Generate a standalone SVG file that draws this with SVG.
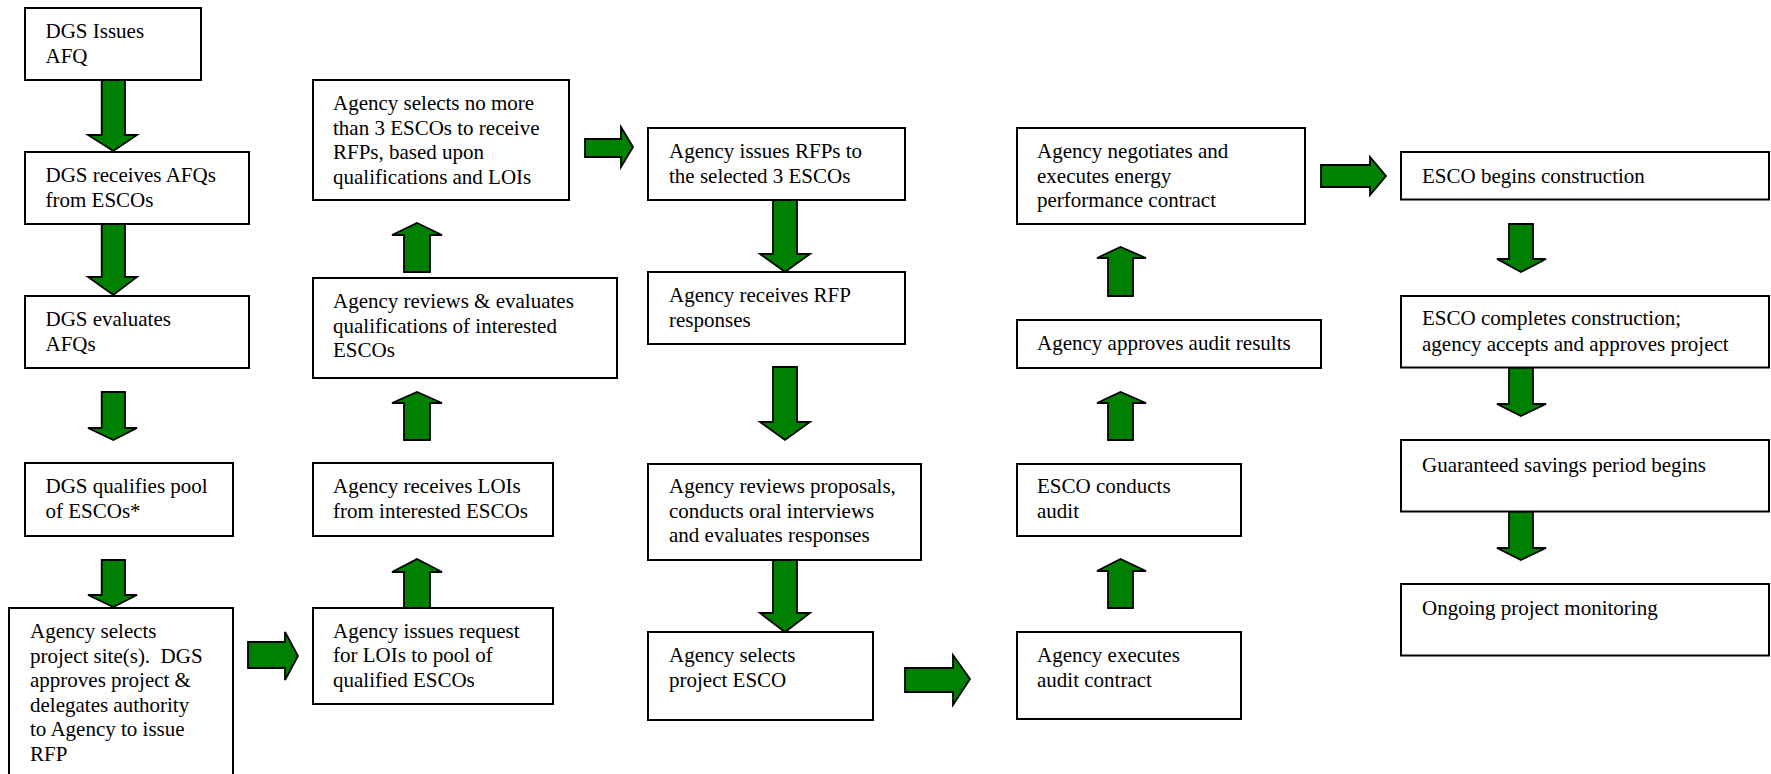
<svg xmlns="http://www.w3.org/2000/svg" width="1771" height="774" viewBox="0 0 1771 774">
<style>
.box{fill:#fff;stroke:#000;stroke-width:2}
.arr{fill:#008000;stroke:#000;stroke-width:1.8;stroke-linejoin:miter}
.t{font-size:21px;fill:#000}
</style>
<rect width="1771" height="774" fill="#fff"/>
<g id="connectors">
<polygon class="arr" points="101.7,80 125,80 125,135 137,135 113.3,151 88,135 101.7,135"/>
<polygon class="arr" points="101.7,224 125,224 125,277 137,277 113.3,295 88,277 101.7,277"/>
<polygon class="arr" points="101.7,392 125,392 125,428 137,428 113.3,440 88,428 101.7,428"/>
<polygon class="arr" points="101.7,560 125,560 125,595 137,595 113.3,607 88,595 101.7,595"/>
<polygon class="arr" points="248,642 285,642 285,632 298,656 285,680 285,668 248,668"/>
<polygon class="arr" points="404,608 430,608 430,572 442,572 417,559 392,572 404,572"/>
<polygon class="arr" points="404,440 430,440 430,403 442,403 417,392 392,403 404,403"/>
<polygon class="arr" points="404,272 430,272 430,235 442,235 417,223 392,235 404,235"/>
<polygon class="arr" points="585,139 621,139 621,127 633,147 621,167 621,157 585,157"/>
<polygon class="arr" points="773,200 797,200 797,254 810,254 785,272 760,254 773,254"/>
<polygon class="arr" points="773,367 797,367 797,422 810,422 785,440 760,422 773,422"/>
<polygon class="arr" points="773,560 797,560 797,613 810,613 785,632 760,613 773,613"/>
<polygon class="arr" points="905,668 953,668 953,655 970,679 953,705 953,692 905,692"/>
<polygon class="arr" points="1108,608 1133,608 1133,571 1146,571 1120.5,559 1097,571 1108,571"/>
<polygon class="arr" points="1108,440 1133,440 1133,403 1146,403 1120.5,392 1097,403 1108,403"/>
<polygon class="arr" points="1108,296 1133,296 1133,258 1146,258 1120.5,247 1097,258 1108,258"/>
<polygon class="arr" points="1321,165 1370,165 1370,157 1386,176 1370,195 1370,187 1321,187"/>
<polygon class="arr" points="1509,224 1533,224 1533,259 1546,259 1521,272 1497,259 1509,259"/>
<polygon class="arr" points="1509,367.5 1533,367.5 1533,404 1546,404 1521,416 1497,404 1509,404"/>
<polygon class="arr" points="1509,511.5 1533,511.5 1533,548 1546,548 1521,560 1497,548 1509,548"/>
</g>
<g font-family="'Liberation Serif', Tinos, 'Times New Roman', Times, 'DejaVu Serif', serif">
<g id="n1"><rect class="box" x="25" y="8" width="176" height="72"/><text class="t" x="45.5" y="38">DGS Issues</text><text class="t" x="45.5" y="63">AFQ</text></g>
<g id="n2"><rect class="box" x="25" y="152" width="224" height="72"/><text class="t" x="45.5" y="182">DGS receives AFQs</text><text class="t" x="45.5" y="206.5">from ESCOs</text></g>
<g id="n3"><rect class="box" x="25" y="296" width="224" height="72"/><text class="t" x="45.5" y="326">DGS evaluates</text><text class="t" x="45.5" y="350.5">AFQs</text></g>
<g id="n4"><rect class="box" x="25" y="463" width="208" height="73"/><text class="t" x="45.5" y="493">DGS qualifies pool</text><text class="t" x="45.5" y="517.5">of ESCOs*</text></g>
<g id="n5"><rect class="box" x="9" y="608" width="224" height="180"/><text class="t" x="30" y="638">Agency selects</text><text class="t" x="30" y="662.5" xml:space="preserve">project site(s).  DGS</text><text class="t" x="30" y="687">approves project &amp;</text><text class="t" x="30" y="711.5">delegates authority</text><text class="t" x="30" y="736">to Agency to issue</text><text class="t" x="30" y="760.5">RFP</text></g>
<g id="n6"><rect class="box" x="313" y="608" width="240" height="96"/><text class="t" x="333" y="637.5">Agency issues request</text><text class="t" x="333" y="662">for LOIs to pool of</text><text class="t" x="333" y="686.5">qualified ESCOs</text></g>
<g id="n7"><rect class="box" x="313" y="463" width="240" height="73"/><text class="t" x="333" y="493">Agency receives LOIs</text><text class="t" x="333" y="517.5">from interested ESCOs</text></g>
<g id="n8"><rect class="box" x="313" y="278" width="304" height="100"/><text class="t" x="333" y="308">Agency reviews &amp; evaluates</text><text class="t" x="333" y="332.5">qualifications of interested</text><text class="t" x="333" y="357">ESCOs</text></g>
<g id="n9"><rect class="box" x="313" y="80" width="256" height="120"/><text class="t" x="333" y="110">Agency selects no more</text><text class="t" x="333" y="134.5">than 3 ESCOs to receive</text><text class="t" x="333" y="159">RFPs, based upon</text><text class="t" x="333" y="183.5">qualifications and LOIs</text></g>
<g id="n10"><rect class="box" x="648" y="128" width="257" height="72"/><text class="t" x="669" y="158">Agency issues RFPs to</text><text class="t" x="669" y="182.5">the selected 3 ESCOs</text></g>
<g id="n11"><rect class="box" x="648" y="272" width="257" height="72"/><text class="t" x="669" y="302">Agency receives RFP</text><text class="t" x="669" y="326.5">responses</text></g>
<g id="n12"><rect class="box" x="648" y="464" width="273" height="96"/><text class="t" x="669" y="493">Agency reviews proposals,</text><text class="t" x="669" y="517.5">conducts oral interviews</text><text class="t" x="669" y="542">and evaluates responses</text></g>
<g id="n13"><rect class="box" x="648" y="632" width="225" height="88"/><text class="t" x="669" y="662">Agency selects</text><text class="t" x="669" y="686.5">project ESCO</text></g>
<g id="n14"><rect class="box" x="1017" y="632" width="224" height="87"/><text class="t" x="1037" y="662">Agency executes</text><text class="t" x="1037" y="686.5">audit contract</text></g>
<g id="n15"><rect class="box" x="1017" y="464" width="224" height="72"/><text class="t" x="1037" y="493">ESCO conducts</text><text class="t" x="1037" y="517.5">audit</text></g>
<g id="n16"><rect class="box" x="1017" y="320" width="304" height="48"/><text class="t" x="1037" y="350">Agency approves audit results</text></g>
<g id="n17"><rect class="box" x="1017" y="128" width="288" height="96"/><text class="t" x="1037" y="158">Agency negotiates and</text><text class="t" x="1037" y="182.5">executes energy</text><text class="t" x="1037" y="207">performance contract</text></g>
<g id="n18"><rect class="box" x="1401" y="152" width="368" height="47.5"/><text class="t" x="1422" y="182.5">ESCO begins construction</text></g>
<g id="n19"><rect class="box" x="1401" y="296" width="368" height="71.5"/><text class="t" x="1422" y="325">ESCO completes construction;</text><text class="t" x="1422" y="351">agency accepts and approves project</text></g>
<g id="n20"><rect class="box" x="1401" y="440" width="368" height="71.5"/><text class="t" x="1422" y="472">Guaranteed savings period begins</text></g>
<g id="n21"><rect class="box" x="1401" y="584" width="368" height="71.5"/><text class="t" x="1422" y="614.5">Ongoing project monitoring</text></g>
</g>
</svg>
